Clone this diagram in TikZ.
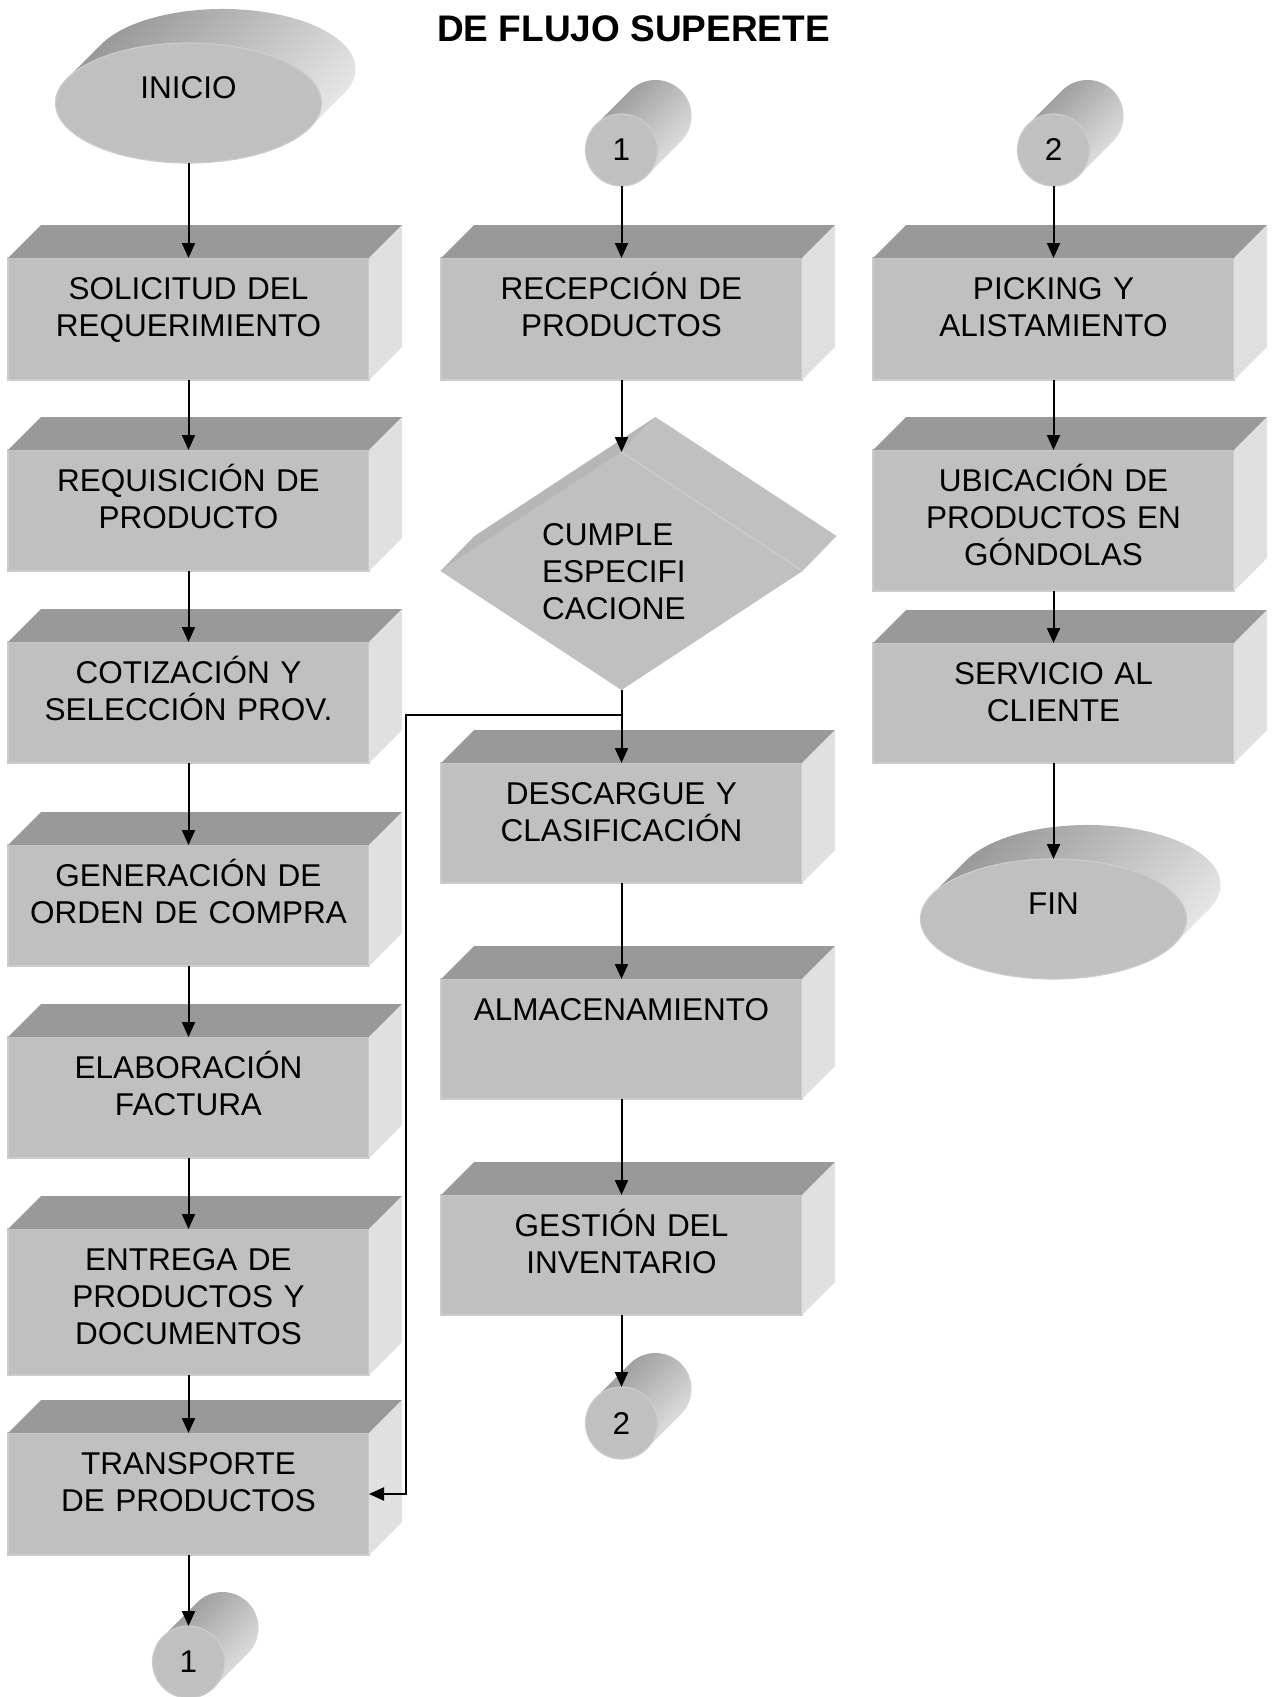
\documentclass[tikz,border=0pt]{standalone}
\usepackage{fontspec}
\setmainfont{Liberation Sans}
\usetikzlibrary{arrows.meta,calc,shapes.geometric}

\definecolor{cfront}{RGB}{192,192,192}
\definecolor{ctop}{RGB}{153,153,153}
\definecolor{cside}{RGB}{224,224,224}
\definecolor{cedge}{RGB}{204,204,204}
\definecolor{cbevel}{RGB}{182,182,182}
\definecolor{cdark}{RGB}{150,150,150}
\definecolor{clight}{RGB}{230,230,230}

\newcommand{\boxfont}{\fontsize{31.5pt}{37pt}\selectfont}
\newcommand{\titlefont}{\fontsize{37pt}{44pt}\selectfont\bfseries}
\newcommand{\dep}{33}

% process block: name, left x, top y, height, text
\newcommand{\procbox}[5]{%
  \node[frontface, minimum height=#4pt] (#1) at (#2,-#3) {};
  \fill[ctop] (#1.north west) -- ++(\dep,\dep) -- ($(#1.north east)+(\dep,\dep)$) -- (#1.north east) -- cycle;
  \fill[cside] (#1.north east) -- ++(\dep,\dep) -- ($(#1.south east)+(\dep,\dep)$) -- (#1.south east) -- cycle;
  \node[boxtext] (#1-t) at ([yshift=-8pt]#1.north) {#5};
}

% page connector drawn as a lying cylinder: name, x, y, label
\newcommand{\pageconn}[4]{%
  \coordinate (#1-c) at (#2,-#3);
  \shade[cylbody] ($(#1-c)+(135:36)$) -- ($(#1-c)+(34,34)+(135:36)$)
     arc[start angle=135, end angle=-45, radius=36] -- ($(#1-c)+(-45:36)$) -- cycle;
  \node[cylfront] (#1) at (#1-c) {#4};
}

% start / end terminal as a flat disc: name, x, y, text baseline y, label
\newcommand{\terminal}[5]{%
  \coordinate (#1-c) at (#2,-#3);
  \shade[cylbody] ($(#1-c)+(-121.2,24.7)$) -- ($(#1-c)+(-87.2,58.7)$)
     arc[start angle=155.7, end angle=-24.3, x radius=133, y radius=60] -- ($(#1-c)+(121.2,-24.7)$) -- cycle;
  \node[termfront] (#1) at (#1-c) {};
  \node[labeltext, anchor=base] (#1-t) at (#2,-#4) {#5};
}

\begin{document}
\begin{tikzpicture}[x=1pt, y=1pt,
  frontface/.style={rectangle, fill=cfront, draw=cedge, line width=1.2pt,
    minimum width=361pt, inner sep=0pt, outer sep=0pt, anchor=north west},
  boxtext/.style={font=\boxfont, text width=361pt, align=center, anchor=north,
    inner sep=0pt, execute at begin node={\rule{0pt}{33pt}}},
  labeltext/.style={font=\boxfont, inner sep=0pt},
  cylbody/.style={top color=cdark, bottom color=clight, shading angle=45},
  cylfront/.style={circle, fill=cfront, draw=cedge, line width=1.2pt,
    minimum size=72pt, inner sep=0pt, outer sep=0pt, font=\boxfont},
  termfront/.style={ellipse, fill=cfront, draw=cedge, line width=1.2pt,
    minimum width=266pt, minimum height=120pt, inner sep=0pt, outer sep=0pt},
  flow/.style={line width=2pt, -{Triangle[length=15pt, width=13pt]}},
]
\useasboundingbox[fill=white] (0,0) rectangle (1278,-1697);

% title
\node[font=\titlefont, anchor=base, inner sep=0pt] (title) at (633.5,-41.7) {DE FLUJO SUPERETE};

% left column
\terminal{ini}{188.5}{103}{98}{INICIO}
\procbox{b1}{8}{258}{122}{SOLICITUD DEL\\REQUERIMIENTO}
\procbox{b2}{8}{450}{121}{REQUISICIÓN DE\\PRODUCTO}
\procbox{b3}{8}{642}{121}{COTIZACIÓN Y\\SELECCIÓN PROV.}
\procbox{b4}{8}{845}{121}{GENERACIÓN DE\\ORDEN DE COMPRA}
\procbox{b5}{8}{1037}{121}{ELABORACIÓN\\FACTURA}
\procbox{b6}{8}{1229}{146}{ENTREGA DE\\PRODUCTOS Y\\DOCUMENTOS}
\procbox{b7}{8}{1433}{122}{TRANSPORTE\\DE PRODUCTOS}
\pageconn{c1b}{188.5}{1662}{1}

% middle column
\pageconn{c1a}{621.5}{150}{1}
\procbox{m1}{441}{258}{122}{RECEPCIÓN DE\\PRODUCTOS}

% decision
\node[diamond, fill=cfront, minimum width=362pt, minimum height=238pt,
      inner sep=0pt, outer sep=0pt] (dec) at (621.5,-571) {};
\fill[cbevel] (dec.west) -- ++(34,35) -- ($(dec.north)+(34,35)$) -- (dec.north) -- cycle;
\fill[cfront] (dec.north) -- ++(34,35) -- ($(dec.east)+(34,35)$) -- (dec.east) -- cycle;
\draw[cedge, line width=1.5pt] (dec.north) -- (dec.east);
\node[font=\boxfont, text width=200pt, align=left, anchor=north west, inner sep=0pt,
      execute at begin node={\rule{0pt}{33pt}}] (dec-t) at (542,-512)
      {CUMPLE\\ESPECIFI\\CACIONE};

\procbox{m2}{441}{763}{120}{DESCARGUE Y\\CLASIFICACIÓN}
\procbox{m3}{441}{979}{120}{ALMACENAMIENTO}
\procbox{m4}{441}{1195}{120}{GESTIÓN DEL\\INVENTARIO}
\pageconn{c2b}{621.5}{1423}{2}

% right column
\pageconn{c2a}{1053.5}{150}{2}
\procbox{r1}{873}{258}{122}{PICKING Y\\ALISTAMIENTO}
\procbox{r2}{873}{450}{141}{UBICACIÓN DE\\PRODUCTOS EN\\GÓNDOLAS}
\procbox{r3}{873}{643}{120}{SERVICIO AL\\CLIENTE}
\terminal{fin}{1053.5}{919}{914}{FIN}

% connectors
\draw[flow] (ini.south) -- (b1.north);
\draw[flow] (b1.south) -- (b2.north);
\draw[flow] (b2.south) -- (b3.north);
\draw[flow] (b3.south) -- (b4.north);
\draw[flow] (b4.south) -- (b5.north);
\draw[flow] (b5.south) -- (b6.north);
\draw[flow] (b6.south) -- (b7.north);
\draw[flow] (b7.south) -- (c1b.north);

\draw[flow] (c1a.south) -- (m1.north);
\draw[flow] (m1.south) -- (dec.north);
\draw[flow] (dec.south) -- (m2.north);
\coordinate (split) at (621.5,-715);
\coordinate (bend) at (406,-715);
\draw[flow] (split) -- (bend) |- (b7.east);
\draw[flow] (m2.south) -- (m3.north);
\draw[flow] (m3.south) -- (m4.north);
\draw[flow] (m4.south) -- (c2b.north);

\draw[flow] (c2a.south) -- (r1.north);
\draw[flow] (r1.south) -- (r2.north);
\draw[flow] (r2.south) -- (r3.north);
\draw[flow] (r3.south) -- (fin.north);
\end{tikzpicture}
\end{document}
